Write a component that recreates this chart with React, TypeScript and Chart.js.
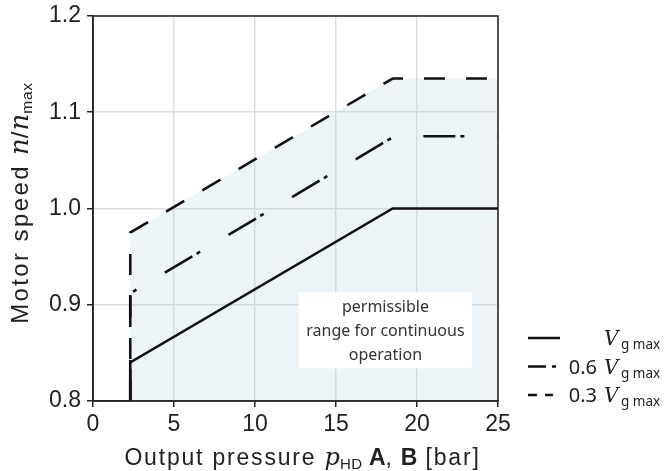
import React, { useEffect, useRef } from "react";
import { Chart, registerables } from "chart.js";

Chart.register(...registerables);

// ---- data ----
const solidX = [2.3, 2.3, 18.5, 25];
const solidY = [0.8, 0.84, 1.0, 1.0];
const dashDotX = [2.3, 2.3, 18.6, 25];
const dashDotY = [0.8, 0.912, 1.075, 1.075];
const dashedX = [2.3, 2.3, 18.5, 25];
const dashedY = [0.8, 0.975, 1.135, 1.135];

const xTicks = [0, 5, 10, 15, 20, 25];
const yTicks = [0.8, 0.9, 1.0, 1.1, 1.2];

const legendPrefixes = ["", "0.6", "0.3"];
const legendSymbol = "V";
const legendSub = "g max";
const boxLines = ["permissible", "range for continuous", "operation"];

const SANS = '"Liberation Sans", Arial, sans-serif';
const NOTO = '"Noto Sans", sans-serif';
const SERIF = '"DejaVu Serif", serif';

type Seg = { t: string; font: string; dy?: number; ls?: number };

function drawRich(ctx: CanvasRenderingContext2D, segs: Seg[], x: number, y: number) {
  const c: any = ctx;
  let total = 0;
  const widths = segs.map((s) => {
    ctx.font = s.font;
    c.letterSpacing = `${s.ls || 0}px`;
    const w = ctx.measureText(s.t).width;
    total += w;
    return w;
  });
  let cx = x - total / 2;
  ctx.textAlign = "left";
  ctx.textBaseline = "alphabetic";
  segs.forEach((s, i) => {
    ctx.font = s.font;
    c.letterSpacing = `${s.ls || 0}px`;
    ctx.fillText(s.t, cx, y + (s.dy || 0));
    cx += widths[i];
  });
  c.letterSpacing = "0px";
}

const pts = (xs: number[], ys: number[]) => xs.map((x, i) => ({ x, y: ys[i] }));

const overlay = {
  id: "overlay",
  afterDraw(chart: any) {
    const ctx: CanvasRenderingContext2D = chart.ctx;
    const a = chart.chartArea;
    const xs = chart.scales.x;
    const ys = chart.scales.y;
    ctx.save();
    // frame
    ctx.strokeStyle = "#222";
    ctx.lineWidth = 1.5;
    ctx.strokeRect(a.left, a.top, a.right - a.left, a.bottom - a.top);

    // text box
    const bx = xs.getPixelForValue(12.7);
    const bx2 = xs.getPixelForValue(23.4);
    const by = ys.getPixelForValue(0.913);
    const by2 = ys.getPixelForValue(0.834);
    ctx.fillStyle = "#ffffff";
    ctx.fillRect(bx, by, bx2 - bx, by2 - by);
    ctx.fillStyle = "#333";
    ctx.font = `16px ${NOTO}`;
    ctx.textAlign = "center";
    ctx.textBaseline = "middle";
    const cx = (bx + bx2) / 2;
    boxLines.forEach((l, i) => ctx.fillText(l, cx, by + 15 + i * 24));

    // legend
    const rowY = [338, 366.5, 395];
    ctx.strokeStyle = "#111";
    ctx.lineWidth = 2.5;
    const dashes = [[], [18, 6, 4, 100], [9, 8]];
    rowY.forEach((ry, i) => {
      ctx.setLineDash(dashes[i]);
      ctx.beginPath();
      ctx.moveTo(528, ry);
      ctx.lineTo(i === 1 ? 556 : i === 2 ? 553 : 560, ry);
      ctx.stroke();
      ctx.setLineDash([]);
      ctx.fillStyle = "#222";
      ctx.textBaseline = "alphabetic";
      ctx.font = `20px ${NOTO}`;
      ctx.textAlign = "right";
      if (legendPrefixes[i]) ctx.fillText(legendPrefixes[i], 597, ry + 7);
      ctx.textAlign = "left";
      ctx.font = `italic 20px ${SERIF}`;
      ctx.fillText(legendSymbol, 604, ry + 7);
      ctx.font = `13.5px ${NOTO}`;
      ctx.fillText(legendSub, 621, ry + 11);
    });

    // axis titles
    ctx.fillStyle = "#222";
    drawRich(
      ctx,
      [
        { t: "Output pressure ", font: `23px ${SANS}`, ls: 1.8 },
        { t: "p", font: `italic 24px ${SERIF}` },
        { t: "HD", font: `15px ${SANS}`, dy: 4, ls: 0.5 },
        { t: " ", font: `23px ${SANS}` },
        { t: "A", font: `bold 23px ${SANS}` },
        { t: ", ", font: `23px ${SANS}`, ls: 1.2 },
        { t: "B", font: `bold 23px ${SANS}` },
        { t: " [bar]", font: `23px ${SANS}`, ls: 1.8 },
      ],
      302.5,
      465
    );
    ctx.translate(28, 203);
    ctx.rotate(-Math.PI / 2);
    drawRich(
      ctx,
      [
        { t: "Motor speed ", font: `24px ${SANS}`, ls: 2.4 },
        { t: "n", font: `italic 26px ${SERIF}` },
        { t: "/", font: `24px ${SANS}`, ls: 1 },
        { t: "n", font: `italic 26px ${SERIF}` },
        { t: "max", font: `15.5px ${SANS}`, dy: 4, ls: 0.8 },
      ],
      0,
      0
    );
    ctx.restore();
  },
};

export default function App() {
  const ref = useRef<HTMLCanvasElement>(null);
  useEffect(() => {
    if (!ref.current) return;
    const chart = new Chart(ref.current, {
      type: "line",
      data: {
        datasets: [
          {
            data: pts(solidX, solidY),
            borderColor: "#111",
            borderWidth: 2.6,
            pointRadius: 0,
            fill: false,
          },
          {
            data: pts(dashDotX, dashDotY),
            borderColor: "#111",
            borderWidth: 2.6,
            borderDash: [32, 5, 4, 33],
            pointRadius: 0,
            fill: false,
          },
          {
            data: pts(dashedX, dashedY),
            borderColor: "#111",
            borderWidth: 2.6,
            borderDash: [21, 21],
            pointRadius: 0,
            fill: "start",
            backgroundColor: "rgba(190,215,228,0.27)",
          },
        ],
      },
      options: {
        animation: false,
        responsive: false,
        devicePixelRatio: 1,
        layout: { padding: { top: 16, right: 167, bottom: 0, left: 0 } },
        plugins: { legend: { display: false }, tooltip: { enabled: false } },
        elements: { line: { tension: 0, borderCapStyle: "butt" } },
        scales: {
          x: {
            type: "linear",
            min: 0,
            max: 25,
            afterFit: (s: any) => {
              s.height = 70;
              s.paddingLeft = 0;
              s.paddingRight = 0;
            },
            afterBuildTicks: (s: any) => {
              s.ticks = xTicks.map((v) => ({ value: v }));
            },
            grid: { color: "#dddddd", lineWidth: 1.5, tickColor: "#222", tickLength: 6, tickWidth: 1.5 },
            border: { color: "#222", width: 1.5 },
            ticks: { color: "#222", font: { size: 23, family: SANS }, padding: 4, maxRotation: 0 },
          },
          y: {
            type: "linear",
            min: 0.8,
            max: 1.2,
            afterFit: (s: any) => {
              s.width = 93;
              s.paddingTop = 0;
              s.paddingBottom = 0;
            },
            afterBuildTicks: (s: any) => {
              s.ticks = yTicks.map((v) => ({ value: v }));
            },
            grid: { color: "#dddddd", lineWidth: 1.5, tickColor: "#222", tickLength: 6, tickWidth: 1.5 },
            border: { color: "#222", width: 1.5 },
            ticks: {
              color: "#222",
              font: { size: 23, family: SANS },
              padding: 6,
              callback: (v: any) => Number(v).toFixed(1),
            },
          },
        },
      },
      plugins: [overlay],
    });
    return () => chart.destroy();
  }, []);
  return (
    <div style={{ position: "fixed", left: 0, top: 0, width: 665, height: 471, background: "#fff" }}>
      <canvas ref={ref} width={665} height={471} />
    </div>
  );
}
